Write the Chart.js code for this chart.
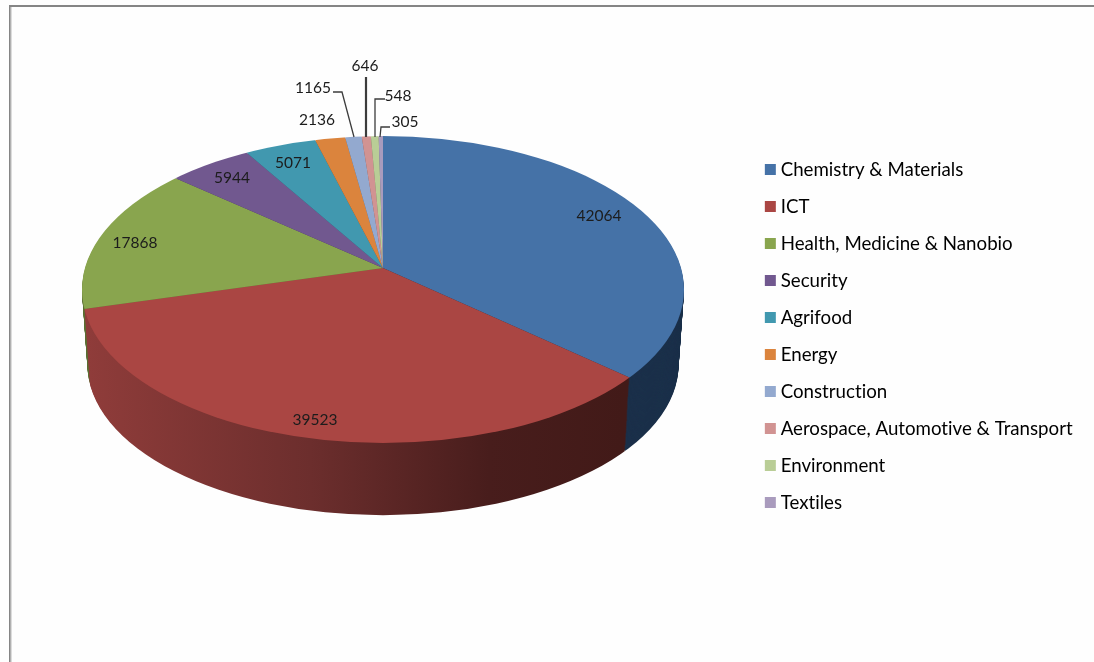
<!DOCTYPE html>
<html>
<head>
<meta charset="utf-8">
<title>Patents by sector</title>
<style>
  html, body { margin: 0; padding: 0; background: #fff; }
  canvas { display: block; }
</style>
<script src="https://cdn.jsdelivr.net/npm/chart.js@4"></script>
</head>
<body>
<canvas id="pieChart" width="1094" height="662"></canvas>
<script>
// Data
const categories = ['Chemistry & Materials', 'ICT', 'Health, Medicine & Nanobio', 'Security', 'Agrifood', 'Energy', 'Construction', 'Aerospace, Automotive & Transport', 'Environment', 'Textiles'];
const values = [42064, 39523, 17868, 5944, 5071, 2136, 1165, 646, 548, 305];

// Colours
const topColors = ['#4572a7', '#aa4643', '#89a54e', '#71588f', '#4198af', '#db843d', '#93a9cf', '#d19392', '#b9cd96', '#a99bbd'];
const sideColors = ['#1b304a', null, '#5c7034', '#44355a', '#27606f', '#864f24', '#59667c', '#7e5958', '#70795a', '#665d72'];

// Where the value labels sit, and the leader lines of the small slices
const labelSpots = [[599, 216], [315, 420], [135, 243], [232, 178], [293, 163], [317, 120], [313, 88], [365, 66], [398, 96], [405, 122]];
const leaders = [
    [[333, 92], [342, 92], [354, 137]],
    [[366, 77], [366, 137]],
    [[385, 99], [375, 99], [375, 137]],
    [[390, 127], [381, 127], [380, 137]]
];

// Tilted disc: ellipse outline plus the apex the wedges meet at
const disc = { cx: 383, cy: 289.5, rx: 301, ry: 153.5, apexX: 383, apexY: 268, tilt: 0.505, depth: 75, shrink: 0.018 };

function drawDisc(chart, offset, scale, colors) {
    const ctx = chart.ctx;
    const arcs = chart.getDatasetMeta(0).data;
    const k = 430 / arcs[0].outerRadius * scale;
    ctx.save();
    ctx.beginPath();
    ctx.ellipse(disc.cx, disc.cy + offset, disc.rx * scale, disc.ry * scale, 0, 0, Math.PI * 2);
    ctx.clip();
    ctx.translate(disc.apexX, disc.apexY + offset);
    ctx.scale(k, k * disc.tilt);
    ctx.translate(-arcs[0].x, -arcs[0].y);
    arcs.forEach((arc, i) => {
        const saved = arc.options;
        arc.options = { ...saved, backgroundColor: colors[i], borderWidth: 0 };
        arc.draw(ctx);
        arc.options = saved;
    });
    ctx.restore();
}

const tiltedPie = {
    id: 'tiltedPie',
    beforeDraw(chart) {
        const ctx = chart.ctx;
        // no ti/fi ligatures in the labels
        ctx.textRendering = 'optimizeSpeed';
        ctx.save();
        ctx.fillStyle = '#fefefe';
        ctx.fillRect(0, 0, chart.width, chart.height);
        // frame left over from the slide
        ctx.fillStyle = '#dcdcdc';
        ctx.fillRect(10, 7, 2, chart.height - 7);
        ctx.fillStyle = '#858585';
        ctx.fillRect(9, 5, chart.width - 9, 2);
        ctx.fillRect(9, 5, 1.5, chart.height - 5);
        ctx.restore();
    },
    beforeDatasetsDraw(chart) {
        const ctx = chart.ctx;
        const arc = chart.getDatasetMeta(0).data[0];
        const k = 430 / arc.outerRadius;
        // wall shading runs left to right across the red slice
        const grad = ctx.createLinearGradient(arc.x + (85 - disc.apexX) / k, 0, arc.x + (625 - disc.apexX) / k, 0);
        grad.addColorStop(0, '#8f3c3a');
        grad.addColorStop(0.417, '#6c2e2d');
        grad.addColorStop(0.75, '#481d1c');
        grad.addColorStop(1, '#421a18');
        const walls = sideColors.map(c => c || grad);
        for (let off = disc.depth; off > 0; off--) {
            drawDisc(chart, off, 1 - disc.shrink * off / disc.depth, walls);
        }
        drawDisc(chart, 0, 1, topColors);
        return false;
    },
    afterDraw(chart) {
        const ctx = chart.ctx;
        ctx.save();
        ctx.strokeStyle = '#3c3c3c';
        leaders.forEach((pts, i) => {
            ctx.lineWidth = i === 1 ? 2.2 : 1.3;
            ctx.beginPath();
            pts.forEach((p, j) => j ? ctx.lineTo(p[0], p[1]) : ctx.moveTo(p[0], p[1]));
            ctx.stroke();
        });
        ctx.font = '15.5px Lato';
        ctx.fillStyle = '#1c1c1c';
        ctx.textAlign = 'center';
        ctx.textBaseline = 'middle';
        values.forEach((v, i) => ctx.fillText(String(v), labelSpots[i][0], labelSpots[i][1]));
        ctx.restore();
    }
};

new Chart(document.getElementById('pieChart'), {
    type: 'pie',
    data: {
        labels: categories,
        datasets: [{
            data: values,
            backgroundColor: topColors,
            borderWidth: 0
        }]
    },
    options: {
        responsive: false,
        animation: false,
        events: [],
        layout: { padding: { top: 10, right: 11 } },
        plugins: {
            tooltip: { enabled: false },
            legend: {
                position: 'right',
                labels: {
                    // thin box with a thick outline: keeps the text close to the swatch
                    boxWidth: 2,
                    boxHeight: 2,
                    padding: 18.3,
                    color: '#1c1c1c',
                    font: { family: 'Lato', size: 18.7 },
                    generateLabels: () => categories.map((name, i) => ({
                        text: name,
                        fillStyle: topColors[i],
                        strokeStyle: topColors[i],
                        lineWidth: 9,
                        index: i
                    }))
                }
            }
        }
    },
    plugins: [tiltedPie]
});
</script>
</body>
</html>
